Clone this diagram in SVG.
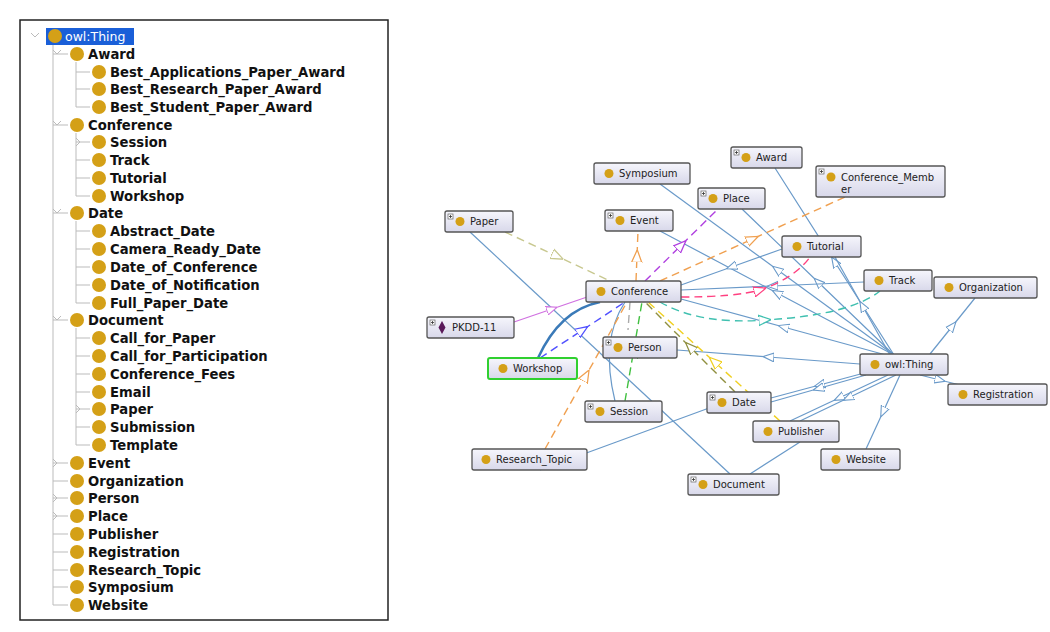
<svg xmlns="http://www.w3.org/2000/svg" width="1050" height="632" viewBox="0 0 1050 632">
<defs>
<style>
.t{font-family:"DejaVu Sans",Verdana,sans-serif;font-weight:bold;font-size:13.2px;fill:#111}
.g{font-family:"DejaVu Sans",Verdana,sans-serif;font-size:10px;fill:#222}
.dot{fill:#d4a017}
.box{fill:url(#bg);stroke:#555;stroke-width:1.3}
.tl{stroke:#bbb;stroke-width:1;fill:none}
.e{fill:none;stroke:#6a9ac9;stroke-width:1.2;marker-mid:url(#ab)}
.d{fill:none;stroke-width:1.4;stroke-dasharray:8 5}
.pl{fill:#fff;stroke:#666;stroke-width:0.7}
.pp{stroke:#333;stroke-width:0.8}
</style>
<linearGradient id="bg" x1="0" y1="0" x2="0" y2="1"><stop offset="0" stop-color="#f6f6fc"/><stop offset="1" stop-color="#d8d8ea"/></linearGradient>
<marker id="ab" viewBox="0 0 10 10" refX="5" refY="5" markerWidth="9" markerHeight="9" orient="auto"><path d="M0,1 L10,5 L0,9 Z" fill="#fff" stroke="#6a9ac9"/></marker>
<marker id="ao" viewBox="0 0 10 10" refX="5" refY="5" markerWidth="9" markerHeight="9" orient="auto"><path d="M0,1 L10,5 L0,9 Z" fill="#fff" stroke="#f0a050"/></marker>
<marker id="ak" viewBox="0 0 10 10" refX="5" refY="5" markerWidth="9" markerHeight="9" orient="auto"><path d="M0,1 L10,5 L0,9 Z" fill="#fff" stroke="#c8c890"/></marker>
<marker id="ap" viewBox="0 0 10 10" refX="5" refY="5" markerWidth="9" markerHeight="9" orient="auto"><path d="M0,1 L10,5 L0,9 Z" fill="#fff" stroke="#b040e0"/></marker>
<marker id="apk" viewBox="0 0 10 10" refX="5" refY="5" markerWidth="9" markerHeight="9" orient="auto"><path d="M0,1 L10,5 L0,9 Z" fill="#fff" stroke="#ff4080"/></marker>
<marker id="at" viewBox="0 0 10 10" refX="5" refY="5" markerWidth="9" markerHeight="9" orient="auto"><path d="M0,1 L10,5 L0,9 Z" fill="#fff" stroke="#40c0b0"/></marker>
<marker id="av" viewBox="0 0 10 10" refX="5" refY="5" markerWidth="9" markerHeight="9" orient="auto"><path d="M0,1 L10,5 L0,9 Z" fill="#fff" stroke="#d070e0"/></marker>
<marker id="aw" viewBox="0 0 10 10" refX="5" refY="5" markerWidth="9" markerHeight="9" orient="auto"><path d="M0,1 L10,5 L0,9 Z" fill="#fff" stroke="#5050ff"/></marker>
<marker id="agr" viewBox="0 0 10 10" refX="5" refY="5" markerWidth="9" markerHeight="9" orient="auto"><path d="M0,1 L10,5 L0,9 Z" fill="#fff" stroke="#40c040"/></marker>
<marker id="aol" viewBox="0 0 10 10" refX="5" refY="5" markerWidth="9" markerHeight="9" orient="auto"><path d="M0,1 L10,5 L0,9 Z" fill="#fff" stroke="#909040"/></marker>
<marker id="ay" viewBox="0 0 10 10" refX="5" refY="5" markerWidth="9" markerHeight="9" orient="auto"><path d="M0,1 L10,5 L0,9 Z" fill="#fff" stroke="#f0d020"/></marker>
</defs>
<rect width="1050" height="632" fill="#fff"/>

<g id="tree">
<rect x="20" y="20" width="368" height="600" fill="#fff" stroke="#222" stroke-width="1.5"/>
<rect x="46" y="28" width="88" height="17" fill="#1a5fd8"/>
<g class="tl">
<path d="M31,33 l4,4 l4,-4"/>
<path d="M53,45 V605 M53,54 H68 M53,125 H68 M53,213 H68 M53,320 H68 M53,463 H68 M53,481 H68 M53,498 H68 M53,516 H68 M53,534 H68 M53,552 H68 M53,570 H68 M53,587 H68 M53,605 H68"/>
<path d="M76,62 V107 M76,72 H90 M76,89 H90 M76,107 H90"/>
<path d="M76,133 V196 M76,142 H90 M76,160 H90 M76,178 H90 M76,196 H90"/>
<path d="M76,221 V303 M76,231 H90 M76,249 H90 M76,267 H90 M76,285 H90 M76,303 H90"/>
<path d="M76,328 V445 M76,338 H90 M76,356 H90 M76,374 H90 M76,392 H90 M76,409 H90 M76,427 H90 M76,445 H90"/>
<path d="M53,50 l4,4 l4,-4 M53,121 l4,4 l4,-4 M53,209 l4,4 l4,-4 M53,316 l4,4 l4,-4"/>
<path d="M76,138 l4,4 l-4,4 M76,405 l4,4 l-4,4 M53,459 l4,4 l-4,4 M53,494 l4,4 l-4,4 M53,512 l4,4 l-4,4"/>
</g>
<circle class="dot" cx="55" cy="36" r="7"/><text class="g" x="65" y="41" style="font-size:12.5px;fill:#fff">owl:Thing</text>
<g class="dot">
<circle cx="77" cy="54" r="7"/><circle cx="99" cy="72" r="7"/><circle cx="99" cy="89" r="7"/><circle cx="99" cy="107" r="7"/>
<circle cx="77" cy="125" r="7"/><circle cx="99" cy="142" r="7"/><circle cx="99" cy="160" r="7"/><circle cx="99" cy="178" r="7"/><circle cx="99" cy="196" r="7"/>
<circle cx="77" cy="213" r="7"/><circle cx="99" cy="231" r="7"/><circle cx="99" cy="249" r="7"/><circle cx="99" cy="267" r="7"/><circle cx="99" cy="285" r="7"/><circle cx="99" cy="303" r="7"/>
<circle cx="77" cy="320" r="7"/><circle cx="99" cy="338" r="7"/><circle cx="99" cy="356" r="7"/><circle cx="99" cy="374" r="7"/><circle cx="99" cy="392" r="7"/><circle cx="99" cy="409" r="7"/><circle cx="99" cy="427" r="7"/><circle cx="99" cy="445" r="7"/>
<circle cx="77" cy="463" r="7"/><circle cx="77" cy="481" r="7"/><circle cx="77" cy="498" r="7"/><circle cx="77" cy="516" r="7"/><circle cx="77" cy="534" r="7"/><circle cx="77" cy="552" r="7"/><circle cx="77" cy="570" r="7"/><circle cx="77" cy="587" r="7"/><circle cx="77" cy="605" r="7"/>
</g>
<text class="t" x="88" y="59">Award</text>
<text class="t" x="110" y="77">Best_Applications_Paper_Award</text>
<text class="t" x="110" y="94">Best_Research_Paper_Award</text>
<text class="t" x="110" y="112">Best_Student_Paper_Award</text>
<text class="t" x="88" y="130">Conference</text>
<text class="t" x="110" y="147">Session</text>
<text class="t" x="110" y="165">Track</text>
<text class="t" x="110" y="183">Tutorial</text>
<text class="t" x="110" y="201">Workshop</text>
<text class="t" x="88" y="218">Date</text>
<text class="t" x="110" y="236">Abstract_Date</text>
<text class="t" x="110" y="254">Camera_Ready_Date</text>
<text class="t" x="110" y="272">Date_of_Conference</text>
<text class="t" x="110" y="290">Date_of_Notification</text>
<text class="t" x="110" y="308">Full_Paper_Date</text>
<text class="t" x="88" y="325">Document</text>
<text class="t" x="110" y="343">Call_for_Paper</text>
<text class="t" x="110" y="361">Call_for_Participation</text>
<text class="t" x="110" y="379">Conference_Fees</text>
<text class="t" x="110" y="397">Email</text>
<text class="t" x="110" y="414">Paper</text>
<text class="t" x="110" y="432">Submission</text>
<text class="t" x="110" y="450">Template</text>
<text class="t" x="88" y="468">Event</text>
<text class="t" x="88" y="486">Organization</text>
<text class="t" x="88" y="503">Person</text>
<text class="t" x="88" y="521">Place</text>
<text class="t" x="88" y="539">Publisher</text>
<text class="t" x="88" y="557">Registration</text>
<text class="t" x="88" y="575">Research_Topic</text>
<text class="t" x="88" y="592">Symposium</text>
<text class="t" x="88" y="610">Website</text>
</g>

<g id="connectors">
<path class="e" d="M894,355 L834.5,261.5 L775,168"/>
<path class="e" d="M894,355 L818,282 L742,209"/>
<path class="e" d="M894,355 L777,269.5 L660,184"/>
<path class="e" d="M894,355 L777,293 L660,231"/>
<path class="e" d="M890,355 L862.5,306 L835,257"/>
<path class="e" d="M886,355 L783.5,327 L681,299"/>
<path class="e" d="M860,364 L768.5,357 L677,350"/>
<path class="e" d="M930,354 L952.5,326 L975,298"/>
<path class="e" d="M920,375 L940,380 L960,385"/>
<path class="e" d="M900,375 L883,412 L866,449"/>
<path class="e" d="M888,375 L839,398 L790,421"/>
<path class="e" d="M896,375 L848,398 L800,421"/>
<path class="e" d="M868,372 L819.5,385 L771,398"/>
<path class="e" d="M866,375 L818.5,388.5 L771,402"/>
<path class="e" d="M782,249 L731.5,267 L681,285"/>
<path class="e" d="M864,282 L772.5,286 L681,290"/>
<path fill="none" stroke="#6a9ac9" stroke-width="1.2" d="M470,232 L730,474"/>
<path fill="none" stroke="#6a9ac9" stroke-width="1.2" d="M540,470 L720,404 M800,442 L750,474"/>
<path fill="none" stroke="#3a7ab8" stroke-width="2.5" d="M538,358 Q560,310 600,302"/>
<path fill="none" stroke="#6a9ac9" stroke-width="1.2" d="M615,401 Q600,340 625,302"/>
<path class="d" stroke="#c8c890" marker-mid="url(#ak)" d="M505,232 L557.5,256.5 L610,281"/>
<path class="d" stroke="#f0a050" marker-mid="url(#ao)" d="M636,281 L637,256 L638,231"/>
<path class="d" stroke="#b040e0" marker-mid="url(#ap)" d="M645,281 L681.5,245 L718,209"/>
<path class="d" stroke="#f0a050" marker-mid="url(#ao)" d="M660,281 L752.5,239 L845,197"/>
<path class="d" stroke="#ff4080" marker-mid="url(#apk)" d="M681,297 Q735,297 760,290 Q795,278 810,257"/>
<path class="d" stroke="#40c0b0" marker-mid="url(#at)" d="M660,302 Q700,325 765,320 Q850,315 880,291"/>
<path fill="none" stroke="#d070e0" stroke-width="1.2" marker-mid="url(#av)" d="M514,322 L552,309 L590,296"/>
<path class="d" stroke="#5050ff" stroke-width="2.5" marker-mid="url(#aw)" d="M540,358 L582.5,330 L625,302"/>
<path class="d" stroke="#f0a050" stroke-width="1.2" marker-mid="url(#ao)" d="M545,449 L586,375.5 L627,302"/>
<path class="d" stroke="#40c040" marker-mid="url(#agr)" d="M625,401 L633.5,351.5 L642,302"/>
<path class="d" stroke="#909040" marker-mid="url(#aol)" d="M735,392 L690,347 L645,302"/>
<path class="d" stroke="#f0d020" marker-mid="url(#ay)" d="M780,421 L714,361.5 L648,302"/>
<path class="d" stroke="#aaa" d="M630,302 L628,330"/>
</g>

<g id="n-symposium"><rect class="box" x="594" y="163" width="96" height="21" rx="2"/><circle class="dot" cx="609" cy="173.5" r="4.5"/><text class="g" x="619" y="177">Symposium</text></g>
<g id="n-award"><rect class="box" x="731" y="147" width="71" height="21" rx="2"/><rect class="pl" x="734" y="150" width="5" height="5"/><path class="pp" d="M735,152.5 h3 M736.5,151 v3"/><circle class="dot" cx="746" cy="157.5" r="4.5"/><text class="g" x="756" y="161">Award</text></g>
<g id="n-confmember"><rect class="box" x="816" y="166" width="129" height="31" rx="2"/><rect class="pl" x="819" y="169" width="5" height="5"/><path class="pp" d="M820,171.5 h3 M821.5,170 v3"/><circle class="dot" cx="831" cy="177" r="4.5"/><text class="g" x="841" y="181">Conference_Memb</text><text class="g" x="841" y="193">er</text></g>
<g id="n-place"><rect class="box" x="698" y="188" width="67" height="21" rx="2"/><rect class="pl" x="701" y="191" width="5" height="5"/><path class="pp" d="M702,193.5 h3 M703.5,192 v3"/><circle class="dot" cx="713" cy="198.5" r="4.5"/><text class="g" x="723" y="202">Place</text></g>
<g id="n-paper"><rect class="box" x="445" y="211" width="68" height="21" rx="2"/><rect class="pl" x="448" y="214" width="5" height="5"/><path class="pp" d="M449,216.5 h3 M450.5,215 v3"/><circle class="dot" cx="460" cy="221.5" r="4.5"/><text class="g" x="470" y="225">Paper</text></g>
<g id="n-event"><rect class="box" x="605" y="210" width="68" height="21" rx="2"/><rect class="pl" x="608" y="213" width="5" height="5"/><path class="pp" d="M609,215.5 h3 M610.5,214 v3"/><circle class="dot" cx="620" cy="220.5" r="4.5"/><text class="g" x="630" y="224">Event</text></g>
<g id="n-tutorial"><rect class="box" x="782" y="236" width="79" height="21" rx="2"/><circle class="dot" cx="797" cy="246.5" r="4.5"/><text class="g" x="807" y="250">Tutorial</text></g>
<g id="n-track"><rect class="box" x="864" y="270" width="68" height="21" rx="2"/><circle class="dot" cx="879" cy="280.5" r="4.5"/><text class="g" x="889" y="284">Track</text></g>
<g id="n-organization"><rect class="box" x="934" y="277" width="103" height="21" rx="2"/><circle class="dot" cx="949" cy="287.5" r="4.5"/><text class="g" x="959" y="291">Organization</text></g>
<g id="n-conference"><rect class="box" x="586" y="281" width="95" height="21" rx="2"/><circle class="dot" cx="601" cy="291.5" r="4.5"/><text class="g" x="611" y="295">Conference</text></g>
<g id="n-pkdd"><rect class="box" x="427" y="317" width="87" height="21" rx="2"/><rect class="pl" x="430" y="320" width="5" height="5"/><path class="pp" d="M431,322.5 h3 M432.5,321 v3"/><path d="M442,321 L445.5,327.5 L442,334 L438.5,327.5 Z" fill="#5a1a5a"/><text class="g" x="452" y="331">PKDD-11</text></g>
<g id="n-person"><rect class="box" x="603" y="337" width="74" height="21" rx="2"/><rect class="pl" x="606" y="340" width="5" height="5"/><path class="pp" d="M607,342.5 h3 M608.5,341 v3"/><circle class="dot" cx="618" cy="347.5" r="4.5"/><text class="g" x="628" y="351">Person</text></g>
<g id="n-workshop"><rect class="box" x="488" y="358" width="89" height="21" rx="2" style="stroke:#30d030;stroke-width:2"/><circle class="dot" cx="503" cy="368.5" r="4.5"/><text class="g" x="513" y="372">Workshop</text></g>
<g id="n-owlthing"><rect class="box" x="860" y="354" width="88" height="21" rx="2"/><circle class="dot" cx="875" cy="364.5" r="4.5"/><text class="g" x="885" y="368">owl:Thing</text></g>
<g id="n-registration"><rect class="box" x="948" y="384" width="99" height="21" rx="2"/><circle class="dot" cx="963" cy="394.5" r="4.5"/><text class="g" x="973" y="398">Registration</text></g>
<g id="n-session"><rect class="box" x="585" y="401" width="77" height="21" rx="2"/><rect class="pl" x="588" y="404" width="5" height="5"/><path class="pp" d="M589,406.5 h3 M590.5,405 v3"/><circle class="dot" cx="600" cy="411.5" r="4.5"/><text class="g" x="610" y="415">Session</text></g>
<g id="n-date"><rect class="box" x="707" y="392" width="64" height="21" rx="2"/><rect class="pl" x="710" y="395" width="5" height="5"/><path class="pp" d="M711,397.5 h3 M712.5,396 v3"/><circle class="dot" cx="722" cy="402.5" r="4.5"/><text class="g" x="732" y="406">Date</text></g>
<g id="n-publisher"><rect class="box" x="753" y="421" width="86" height="21" rx="2"/><circle class="dot" cx="768" cy="431.5" r="4.5"/><text class="g" x="778" y="435">Publisher</text></g>
<g id="n-research"><rect class="box" x="472" y="449" width="115" height="21" rx="2"/><circle class="dot" cx="486" cy="459.5" r="4.5"/><text class="g" x="496" y="463">Research_Topic</text></g>
<g id="n-website"><rect class="box" x="821" y="449" width="79" height="21" rx="2"/><circle class="dot" cx="836" cy="459.5" r="4.5"/><text class="g" x="846" y="463">Website</text></g>
<g id="n-document"><rect class="box" x="688" y="474" width="91" height="21" rx="2"/><rect class="pl" x="691" y="477" width="5" height="5"/><path class="pp" d="M692,479.5 h3 M693.5,478 v3"/><circle class="dot" cx="703" cy="484.5" r="4.5"/><text class="g" x="713" y="488">Document</text></g>
</svg>
